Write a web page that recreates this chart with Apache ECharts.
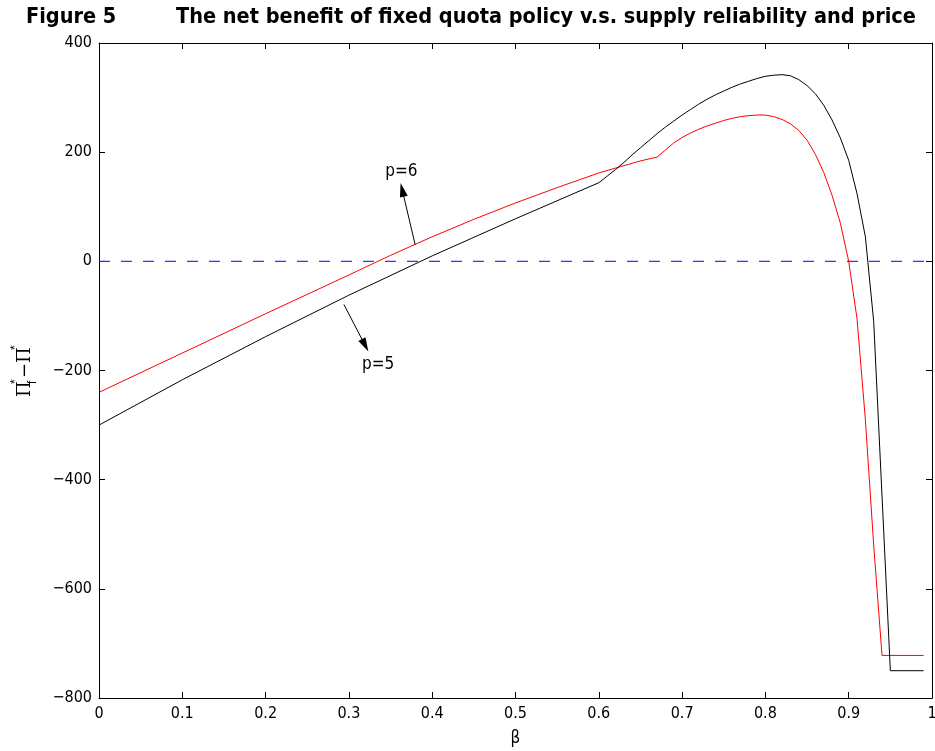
<!DOCTYPE html>
<html>
<head>
<meta charset="utf-8">
<script src="https://cdn.jsdelivr.net/npm/echarts@6/dist/echarts.min.js"></script>
<style>
  html, body { margin: 0; padding: 0; background: #fff; }
  #chart { width: 935px; height: 751px; }
</style>
</head>
<body>
<div id="chart"></div>
<script>
// beta values and net benefit for p=6 (red)
const betaRed = [0, 0.1, 0.2, 0.3, 0.35, 0.4, 0.45, 0.5, 0.55, 0.6, 0.65, 0.67,
  0.68, 0.69, 0.7, 0.71, 0.72, 0.73, 0.74, 0.75, 0.76, 0.77, 0.78, 0.79, 0.8,
  0.81, 0.82, 0.83, 0.84, 0.85, 0.86, 0.87, 0.88, 0.89, 0.9, 0.91, 0.92, 0.93,
  0.94, 0.99];
const benefitRed = [-240, -168, -96, -25, 11, 45, 77, 107, 135, 162, 184, 191,
  204, 217, 227, 235, 242, 248, 253, 258, 262, 265, 267, 268, 268,
  265, 260, 252, 240, 222, 196, 163, 121, 70, 0, -105, -290, -520,
  -722, -722];

// beta values and net benefit for p=5 (black)
const betaBlack = [0, 0.1, 0.2, 0.3, 0.4, 0.5, 0.6, 0.61, 0.62, 0.63, 0.64, 0.65,
  0.66, 0.67, 0.68, 0.69, 0.7, 0.71, 0.72, 0.73, 0.74, 0.75, 0.76, 0.77, 0.78,
  0.79, 0.8, 0.81, 0.82, 0.83, 0.84, 0.85, 0.86, 0.87, 0.88, 0.89, 0.9, 0.91,
  0.92, 0.93, 0.94, 0.95, 0.99];
const benefitBlack = [-300, -217, -138, -62, 10, 78, 144, 156, 168, 181, 195, 208,
  221, 234, 246, 257, 268, 278, 288, 297, 305, 312, 319, 325, 330,
  335, 339, 341, 342, 340, 333, 322, 307, 286, 259, 226, 185, 124,
  45, -110, -430, -750, -750];

const zeroBeta = [0, 1];
const zeroValue = [0, 0];

// annotation arrows [tail, head] and label anchors, in data units
const arrowP6 = [[0.3795, 31], [0.364, 131]];
const arrowP5 = [[0.294, -79], [0.3195, -154]];
const labelP6 = [0.363, 164];
const labelP5 = [0.335, -190];

const font = "'Liberation Sans Narrow', 'DejaVu Sans Condensed', 'Liberation Sans', Arial, sans-serif";

function pairs(xs, ys) {
  return xs.map((x, i) => [x, ys[i]]);
}
function minusFmt(v) {
  return v < 0 ? '\u2212' + Math.abs(v) : String(v);
}

const chart = echarts.init(document.getElementById('chart'), null, { renderer: 'canvas' });

const option = {
  animation: false,
  backgroundColor: '#fff',
  title: [
    { text: 'Figure 5', left: 21, top: 1,
      textStyle: { fontFamily: font, fontWeight: 'bold', fontSize: 21.5, color: '#000' } },
    { text: 'The net benefit of fixed quota policy v.s. supply reliability and price', left: 171, top: 1,
      textStyle: { fontFamily: font, fontWeight: 'bold', fontSize: 21.5, color: '#000' } }
  ],
  grid: { left: 99, right: 3, top: 43, bottom: 53, show: false, outerBoundsMode: 'none', containLabel: false },
  xAxis: [
    {
      type: 'value', min: 0, max: 1, interval: 0.1, position: 'bottom',
      name: '\u03b2', nameLocation: 'middle', nameGap: 32,
      nameTextStyle: { fontFamily: font, fontSize: 17, color: '#000' },
      axisLine: { show: true, onZero: false, lineStyle: { color: '#000', width: 1 } },
      axisTick: { show: true, inside: true, length: 6, lineStyle: { color: '#000' } },
      axisLabel: { fontFamily: font, fontSize: 16, color: '#000', margin: 8,
        formatter: v => String(Math.round(v * 10) / 10) },
      splitLine: { show: false }
    },
    {
      type: 'value', min: 0, max: 1, interval: 0.1, position: 'top',
      axisLine: { show: true, onZero: false, lineStyle: { color: '#000', width: 1 } },
      axisTick: { show: true, inside: true, length: 6, lineStyle: { color: '#000' } },
      axisLabel: { show: false }, splitLine: { show: false }
    }
  ],
  yAxis: [
    {
      type: 'value', min: -800, max: 400, interval: 200, position: 'left',
      axisLine: { show: true, onZero: false, lineStyle: { color: '#000', width: 1 } },
      axisTick: { show: true, inside: true, length: 6, lineStyle: { color: '#000' } },
      axisLabel: { fontFamily: font, fontSize: 16, color: '#000', margin: 7, formatter: minusFmt },
      splitLine: { show: false }
    },
    {
      type: 'value', min: -800, max: 400, interval: 200, position: 'right',
      axisLine: { show: true, onZero: false, lineStyle: { color: '#000', width: 1 } },
      axisTick: { show: true, inside: true, length: 6, lineStyle: { color: '#000' } },
      axisLabel: { show: false }, splitLine: { show: false }
    }
  ],
  series: [
    {
      name: 'zero', type: 'line', data: pairs(zeroBeta, zeroValue), symbol: 'none',
      lineStyle: { color: '#2a2aff', width: 1.2, type: [11, 11] }, z: 1
    },
    {
      name: 'p=6', type: 'line', data: pairs(betaRed, benefitRed), symbol: 'none',
      lineStyle: { color: '#ff0000', width: 1 }, z: 2,
      markLine: {
        silent: true, symbol: ['none', 'triangle'], symbolSize: [8, 14],
        lineStyle: { color: '#000', width: 1, type: 'solid' },
        label: { show: false },
        data: [[{ coord: arrowP6[0] }, { coord: arrowP6[1] }]]
      },
      markPoint: {
        silent: true, symbol: 'circle', symbolSize: 0,
        label: { show: true, position: 'inside', formatter: 'p=6',
          fontFamily: font, fontSize: 17, color: '#000' },
        data: [{ coord: labelP6 }]
      }
    },
    {
      name: 'p=5', type: 'line', data: pairs(betaBlack, benefitBlack), symbol: 'none',
      lineStyle: { color: '#000', width: 1 }, z: 3,
      markLine: {
        silent: true, symbol: ['none', 'triangle'], symbolSize: [8, 14],
        lineStyle: { color: '#000', width: 1, type: 'solid' },
        label: { show: false },
        data: [[{ coord: arrowP5[0] }, { coord: arrowP5[1] }]]
      },
      markPoint: {
        silent: true, symbol: 'circle', symbolSize: 0,
        label: { show: true, position: 'inside', formatter: 'p=5',
          fontFamily: font, fontSize: 17, color: '#000' },
        data: [{ coord: labelP5 }]
      }
    }
  ],
  graphic: [
    {
      type: 'group', x: 25, y: 397, rotation: Math.PI / 2,
      children: [
        { type: 'text', x: 0, y: 0, style: { text: '\u03a0', font: "18px 'DejaVu Serif', serif", fill: '#000', verticalAlign: 'middle' } },
        { type: 'text', x: 13, y: -9, style: { text: '*', font: "12px 'Liberation Sans', sans-serif", fill: '#000', verticalAlign: 'middle' } },
        { type: 'text', x: 13, y: 8, style: { text: 'f', font: "12px 'Liberation Sans', sans-serif", fill: '#000', verticalAlign: 'middle' } },
        { type: 'text', x: 19, y: 0, style: { text: '\u2212\u03a0', font: "18px 'DejaVu Serif', serif", fill: '#000', verticalAlign: 'middle' } },
        { type: 'text', x: 47, y: -9, style: { text: '*', font: "12px 'Liberation Sans', sans-serif", fill: '#000', verticalAlign: 'middle' } }
      ]
    }
  ]
};

chart.setOption(option);
</script>
</body>
</html>
